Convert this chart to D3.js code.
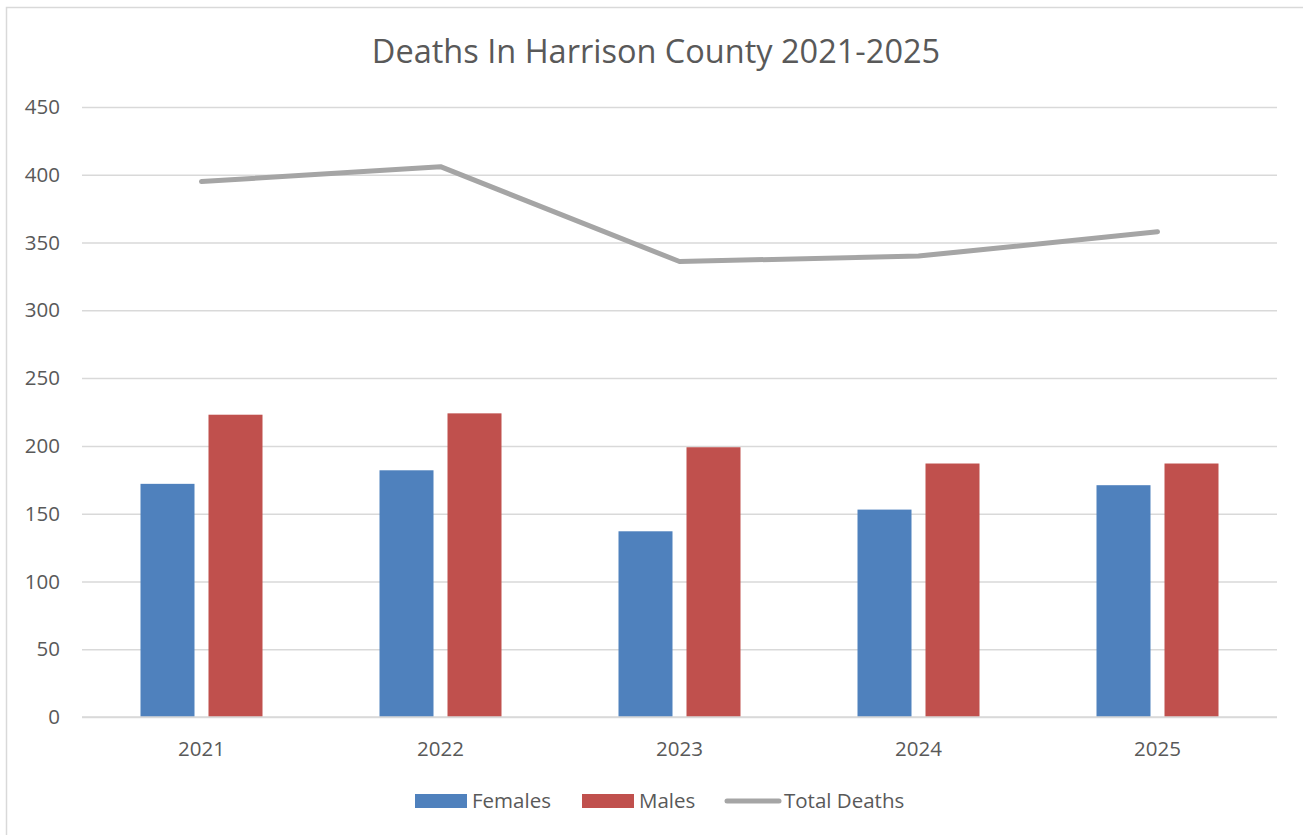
<!DOCTYPE html>
<html><head><meta charset="utf-8">
<script src="https://cdn.jsdelivr.net/npm/d3@7"></script>
<style>body{margin:0;background:#fff;} svg{display:block;}</style>
</head><body>
<svg id="c" width="1303" height="835"></svg>
<script>
const years = ["2021","2022","2023","2024","2025"];
const females = [172, 182, 137, 153, 171];
const males = [223, 224, 199, 187, 187];
const totals = [395, 406, 336, 340, 358];
const yTicks = [0,50,100,150,200,250,300,350,400,450];
const seriesNames = ["Females","Males","Total Deaths"];
const colors = {Females:"#4F81BD", Males:"#C0504D", "Total Deaths":"#A5A5A5"};

const font = "'Open Sans', sans-serif";
const svg = d3.select("#c");
svg.append("rect").attr("x",6.5).attr("y",7.5).attr("width",1310).attr("height",840)
  .attr("fill","#fff").attr("stroke","#d9d9d9").attr("stroke-width",1.5);

const L=82, R=1277, T=107, B=717;
const x = d3.scaleBand().domain(years).range([L,R]).paddingInner(0).paddingOuter(0);
const y = d3.scaleLinear().domain([0,450]).range([B,T]);
const barW = 54, gap = 14;

svg.append("text").attr("x",656).attr("y",63).attr("text-anchor","middle")
  .attr("font-family",font).attr("font-size",32.5).attr("fill","#595959")
  .text("Deaths In Harrison County 2021-2025");

const yAxis = svg.append("g").attr("transform",`translate(${L},0)`)
  .call(d3.axisLeft(y).tickValues(yTicks).tickSize(-(R-L)).tickPadding(22));
yAxis.select(".domain").remove();
yAxis.selectAll(".tick line").attr("stroke","#d9d9d9").attr("stroke-width",1.5);
yAxis.selectAll(".tick text").attr("font-family",font).attr("font-size",20.5).attr("fill","#595959");

const xAxis = svg.append("g").attr("transform",`translate(0,${B})`)
  .call(d3.axisBottom(x).tickSize(0).tickPadding(24));
xAxis.select(".domain").remove();
xAxis.selectAll(".tick text").attr("font-family",font).attr("font-size",20.5).attr("fill","#595959");

svg.append("g").selectAll("rect").data(years).join("rect")
  .attr("x",(d)=>x(d)+x.bandwidth()/2 - gap/2 - barW)
  .attr("y",(d,i)=>y(females[i])).attr("width",barW)
  .attr("height",(d,i)=>B-y(females[i])).attr("fill",colors.Females);
svg.append("g").selectAll("rect").data(years).join("rect")
  .attr("x",(d)=>x(d)+x.bandwidth()/2 + gap/2)
  .attr("y",(d,i)=>y(males[i])).attr("width",barW)
  .attr("height",(d,i)=>B-y(males[i])).attr("fill",colors.Males);
svg.append("line").attr("x1",L).attr("x2",R).attr("y1",B).attr("y2",B)
  .attr("stroke","#d9d9d9").attr("stroke-width",1.5);

const line = d3.line().x((d,i)=>x(years[i])+x.bandwidth()/2).y(d=>y(d));
svg.append("path").datum(totals).attr("d",line).attr("fill","none")
  .attr("stroke",colors["Total Deaths"]).attr("stroke-width",5)
  .attr("stroke-linecap","round").attr("stroke-linejoin","round");

// legend
const lg = svg.append("g").attr("font-family",font).attr("font-size",20.5).attr("fill","#595959");
const lx = [415, 582, 725];
seriesNames.forEach((n,i)=>{
  if(i<2){
    lg.append("rect").attr("x",lx[i]).attr("y",794).attr("width",52).attr("height",14).attr("fill",colors[n]);
    lg.append("text").attr("x",lx[i]+57).attr("y",808).text(n);
  } else {
    lg.append("line").attr("x1",lx[i]+2).attr("x2",lx[i]+54).attr("y1",801).attr("y2",801)
      .attr("stroke",colors[n]).attr("stroke-width",5).attr("stroke-linecap","round");
    lg.append("text").attr("x",lx[i]+59).attr("y",808).text(n);
  }
});
</script>
</body></html>
